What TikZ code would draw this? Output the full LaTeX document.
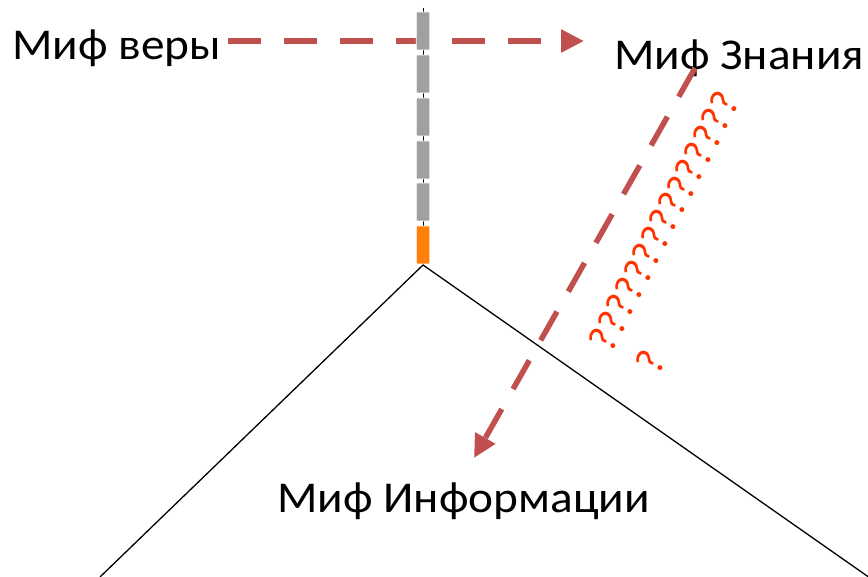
\documentclass[tikz,border=0pt]{standalone}
\usepackage{fontspec}
\setmainfont{Carlito}
\newfontfamily\widefont[FakeStretch=1.075]{Carlito}
\usetikzlibrary{arrows.meta}
\definecolor{myred}{HTML}{C0504D}
\definecolor{qred}{HTML}{FF3300}
\definecolor{barg}{HTML}{A0A0A0}
\definecolor{baro}{HTML}{FF800B}
\begin{document}
\begin{tikzpicture}[x=1pt,y=-1pt,
  lbl/.style={font=\widefont\fontsize{44}{52}\selectfont, inner sep=0pt, anchor=base west},
  seg/.style={draw=white, line width=0.6pt, fill=barg, minimum width=13.5pt, minimum height=38pt, inner sep=0pt, rounded corners=0.8pt},
  myth/.style={draw=myred, line width=5.5pt, dash pattern=on 33pt off 23pt, -{Triangle[length=23pt,width=22pt,fill=myred]}},
  qm/.style={text=qred, font=\fontsize{41}{49}\selectfont, rotate=63, inner sep=0pt},
  edge/.style={draw=black, line width=1.3pt}]
\useasboundingbox (0,0) rectangle (868,577);
% pyramid sides
\coordinate (apex) at (423,265);
\coordinate (bl) at (100,577);
\coordinate (br) at (870,578);
\draw[edge] (bl) -- (apex) -- (br);
% horizontal dashed arrow
\coordinate (h1) at (228,41);
\coordinate (h2) at (584,41);
\draw[myth] (h1) -- (h2);
% vertical bar
\coordinate (top) at (423,8);
\draw[black, line width=1pt] (top) -- (apex);
\node[seg] (s1) at (423,31) {};
\node[seg] (s2) at (423,74) {};
\node[seg] (s3) at (423,117) {};
\node[seg] (s4) at (423,160) {};
\node[seg] (s5) at (423,202) {};
\node[seg, fill=baro] (s6) at (423,245) {};
% labels
\node[lbl] (vera) at (12,60) {Миф веры};
\node[lbl] (znanie) at (614,70) {Миф Знания};
\node[lbl] (info) at (277,512) {Миф Информации};
% diagonal dashed arrow
\coordinate (d1) at (695,68);
\coordinate (d2) at (474,458);
\draw[myth] (d1) -- (d2);
% question marks
\node[qm] (q1) at (664,221) {???????????????};
\node[qm] (q2) at (650,362) {?};
\end{tikzpicture}
\end{document}
